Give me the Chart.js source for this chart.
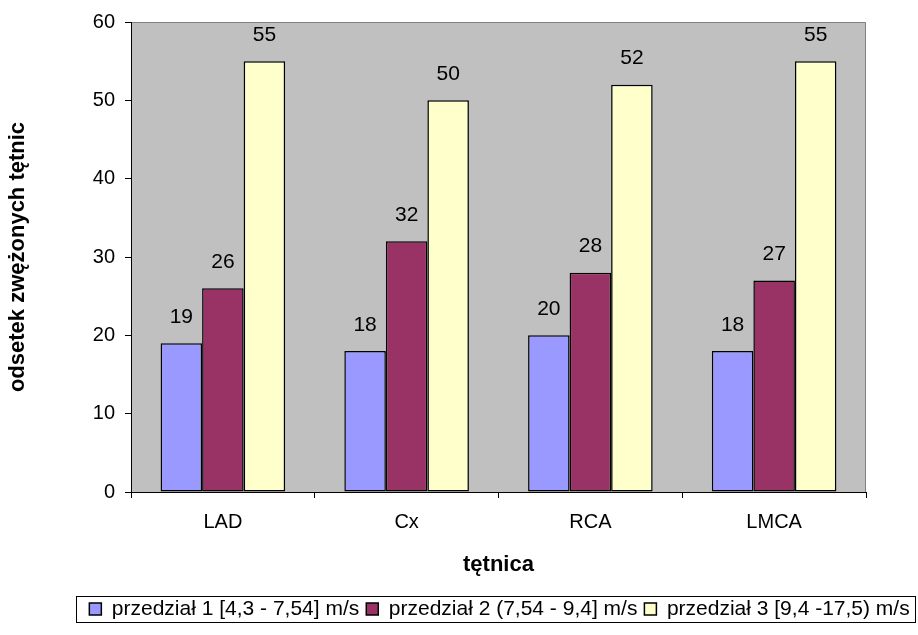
<!DOCTYPE html>
<html>
<head>
<meta charset="utf-8">
<script src="https://cdn.jsdelivr.net/npm/chart.js@4"></script>
<style>
  html, body { margin: 0; padding: 0; background: #fff; }
  #wrap { width: 918px; height: 635px; position: relative; }
</style>
</head>
<body>
<div id="wrap"><canvas id="c"></canvas></div>
<script>
const categories = ["LAD", "Cx", "RCA", "LMCA"];
const seriesNames = [
  "przedział 1 [4,3 - 7,54] m/s",
  "przedział 2 (7,54 - 9,4] m/s",
  "przedział 3 [9,4 -17,5) m/s"
];
const series1 = [19, 18, 20, 18];
const series2 = [26, 32, 28, 27];
const series3 = [55, 50, 52, 55];
const yTicks = [0, 10, 20, 30, 40, 50, 60];
const colors = ["#9999FF", "#993366", "#FFFFCC"];

const FONT = "'Liberation Sans', Arial, sans-serif";
const LEG_FONT = 21;
const LEG_PAD = 7;
const LEG = { left: 76, right: 916, top: 596, bottom: 622 };

const plotBg = {
  id: 'plotBg',
  beforeDraw(chart) {
    const { ctx, chartArea: a } = chart;
    ctx.save();
    ctx.fillStyle = '#C0C0C0';
    ctx.fillRect(a.left, a.top, a.right - a.left, a.bottom - a.top);
    ctx.strokeStyle = '#808080';
    ctx.lineWidth = 1;
    ctx.beginPath();
    ctx.moveTo(a.left, a.top + 0.5);
    ctx.lineTo(a.right - 0.5, a.top + 0.5);
    ctx.lineTo(a.right - 0.5, a.bottom);
    ctx.stroke();
    ctx.restore();
  }
};

const valueLabels = {
  id: 'valueLabels',
  afterDatasetsDraw(chart) {
    const { ctx } = chart;
    ctx.save();
    ctx.font = '21px ' + FONT;
    ctx.fillStyle = '#000';
    ctx.textAlign = 'center';
    ctx.textBaseline = 'middle';
    chart.data.datasets.forEach((ds, i) => {
      const meta = chart.getDatasetMeta(i);
      meta.data.forEach((bar, j) => {
        ctx.fillText(String(ds.data[j]), bar.x, bar.y - 26);
      });
    });
    ctx.restore();
  }
};

const legendBox = {
  id: 'legendBox',
  afterLayout(chart) {
    const lg = chart.legend;
    if (!lg) return;
    const h = lg.bottom - lg.top;
    lg.left = LEG.left; lg.right = LEG.right + LEG_PAD;
    lg.top = LEG.top + (LEG.bottom - LEG.top - LEG_FONT) / 2 - LEG_PAD;
    lg.bottom = lg.top + h;
    lg.width = lg.right - lg.left;
  },
  afterDraw(chart) {
    const { ctx } = chart;
    ctx.save();
    ctx.strokeStyle = '#000';
    ctx.lineWidth = 1;
    ctx.strokeRect(LEG.left + 0.5, LEG.top + 0.5, LEG.right - LEG.left - 1, LEG.bottom - LEG.top);
    ctx.restore();
  }
};

const ctxEl = document.getElementById('c');
new Chart(ctxEl, {
  type: 'bar',
  data: {
    labels: categories,
    datasets: [
      { label: seriesNames[0], data: series1, backgroundColor: colors[0] },
      { label: seriesNames[1], data: series2, backgroundColor: colors[1] },
      { label: seriesNames[2], data: series3, backgroundColor: colors[2] }
    ].map(d => Object.assign(d, { borderColor: '#000', borderWidth: 1.5, borderSkipped: false }))
  },
  options: {
    responsive: true,
    maintainAspectRatio: false,
    animation: false,
    devicePixelRatio: 1,
    layout: { padding: { left: 0, right: 52, top: 22, bottom: 0 } },
    datasets: { bar: { categoryPercentage: 0.678, barPercentage: 1 } },
    plugins: {
      legend: {
        position: 'bottom',
        labels: {
          font: { family: FONT, size: LEG_FONT },
          color: '#000',
          boxWidth: 12,
          boxHeight: 12,
          padding: LEG_PAD,
          useBorderRadius: false
        }
      },
      tooltip: { enabled: false }
    },
    scales: {
      x: {
        grid: { display: true, offset: true, drawOnChartArea: false, drawTicks: true, tickLength: 6, color: '#000' },
        border: { display: true, color: '#000', width: 1 },
        ticks: { font: { family: FONT, size: 20 }, color: '#000', padding: 12 },
        title: { display: true, text: 'tętnica', font: { family: FONT, size: 22, weight: 'bold' }, color: '#000', padding: { top: 0, bottom: 0 } },
        afterFit(s) { s.height = 565 + 13 - 492; }
      },
      y: {
        min: 0, max: 60,
        afterBuildTicks(s) { s.ticks = yTicks.map(v => ({ value: v })); },
        grid: { display: true, drawOnChartArea: false, drawTicks: true, tickLength: 6, color: '#000' },
        border: { display: true, color: '#000', width: 1 },
        ticks: { font: { family: FONT, size: 20 }, color: '#000', padding: 10 },
        title: { display: true, text: 'odsetek zwężonych tętnic', font: { family: FONT, size: 22, weight: 'bold' }, color: '#000', padding: { top: 5, bottom: 0 } },
        afterFit(s) { s.width = 131; }
      }
    }
  },
  plugins: [plotBg, valueLabels, {
    id: 'fixLayout',
    beforeLayout(chart) {
      const lgH = LEG_FONT + LEG_PAD + 10;
      chart.options.layout.padding.bottom = Math.max(0, 635 - 578 - lgH);
    }
  }, legendBox]
});
</script>
</body>
</html>
